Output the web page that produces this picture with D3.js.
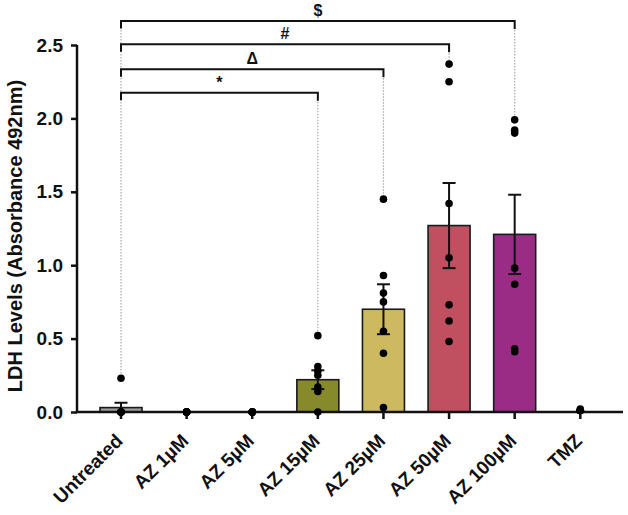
<!DOCTYPE html>
<html>
<head>
<meta charset="utf-8">
<script src="https://cdn.jsdelivr.net/npm/d3@7"></script>
<style>
  html, body { margin: 0; padding: 0; background: #fff; }
  svg { display: block; }
  text { font-family: "Liberation Sans", Arial, sans-serif; font-weight: bold; fill: #111; }
</style>
</head>
<body>
<script>
// ---- data ----
const categories = ["Untreated", "AZ 1µM", "AZ 5µM", "AZ 15µM", "AZ 25µM", "AZ 50µM", "AZ 100µM", "TMZ"];
const means = [0.03, 0, 0, 0.22, 0.70, 1.27, 1.21, 0];
const sems  = [0.033, 0, 0, 0.064, 0.17, 0.29, 0.27, 0];
const points = [
  [0.23, 0, 0, 0, 0, 0, 0],
  [0, 0, 0, 0, 0, 0],
  [0, 0, 0, 0, 0, 0],
  [0.52, 0.31, 0.28, 0.25, 0.17, 0.14, 0],
  [1.45, 0.93, 0.81, 0.75, 0.55, 0.40, 0.03],
  [2.37, 2.25, 1.42, 1.05, 0.73, 0.62, 0.48],
  [1.99, 1.92, 1.90, 0.98, 0.87, 0.43, 0.41],
  [0.01, 0.01, 0.01, 0.02, 0.01, 0.01]
];
const barColors = ["#9c9c9c", "#9c9c9c", "#9c9c9c", "#878a2b", "#ccb960", "#c04f5f", "#9a2c86", "#9c9c9c"];
const yTicks = [0, 0.5, 1.0, 1.5, 2.0, 2.5];
const brackets = [
  { label: "*", from: "Untreated", to: "AZ 15µM", level: 2.175 },
  { label: "Δ", from: "Untreated", to: "AZ 25µM", level: 2.335 },
  { label: "#", from: "Untreated", to: "AZ 50µM", level: 2.505 },
  { label: "$", from: "Untreated", to: "AZ 100µM", level: 2.663 }
];
const yTitle = "LDH Levels (Absorbance 492nm)";

// ---- layout ----
const W = 628, H = 515;
const svg = d3.select("body").append("svg").attr("width", W).attr("height", H);

const x = d3.scaleBand().domain(categories).range([88.2, 613.1]).paddingInner(0.36).paddingOuter(0.18);
const y = d3.scaleLinear().domain([0, 2.5]).range([412, 45]);
const cx = c => x(c) + x.bandwidth() / 2;
const axisX = 77;

// dotted guide lines from bracket ends down to highest point
const guideTop = {};
brackets.forEach(b => {
  guideTop[b.from] = Math.max(guideTop[b.from] || 0, b.level);
  guideTop[b.to] = Math.max(guideTop[b.to] || 0, b.level);
});
svg.append("g").selectAll("line").data(Object.keys(guideTop)).join("line")
  .attr("x1", d => cx(d)).attr("x2", d => cx(d))
  .attr("y1", d => y(guideTop[d]))
  .attr("y2", d => y(d3.max(points[categories.indexOf(d)])))
  .attr("stroke", "#aaa").attr("stroke-width", 1.2).attr("stroke-dasharray", "1.5,1.5");

// bars
svg.append("g").selectAll("rect").data(categories).join("rect")
  .attr("x", d => x(d))
  .attr("width", x.bandwidth())
  .attr("y", (d, i) => y(means[i]))
  .attr("height", (d, i) => y(0) - y(means[i]))
  .attr("fill", (d, i) => barColors[i])
  .attr("stroke", (d, i) => means[i] > 0 ? "#1a1a1a" : "none")
  .attr("stroke-width", 1.6);

// error bars
const eb = svg.append("g").attr("stroke", "#111").attr("stroke-width", 2);
categories.forEach((c, i) => {
  if (sems[i] <= 0) return;
  const xc = cx(c);
  const top = means[i] + sems[i], bot = Math.max(0, means[i] - sems[i]);
  eb.append("line").attr("x1", xc).attr("x2", xc).attr("y1", y(top)).attr("y2", y(bot));
  eb.append("line").attr("x1", xc - 6.5).attr("x2", xc + 6.5).attr("y1", y(top)).attr("y2", y(top));
  if (means[i] - sems[i] > 0.02)
    eb.append("line").attr("x1", xc - 6.5).attr("x2", xc + 6.5).attr("y1", y(bot)).attr("y2", y(bot));
});

// axes
const yAxis = svg.append("g").attr("transform", `translate(${axisX},0)`)
  .call(d3.axisLeft(y).tickValues(yTicks).tickFormat(d3.format(".1f")).tickSize(6).tickPadding(8));
yAxis.select(".domain").attr("stroke", "#111").attr("stroke-width", 2.5).attr("d", `M0,${y(2.5)}V${y(0)}`);
yAxis.selectAll(".tick line").attr("stroke", "#111").attr("stroke-width", 2.5);
yAxis.selectAll(".tick text").attr("font-size", 19).attr("font-weight", "bold")
  .attr("font-family", "Liberation Sans, Arial, sans-serif").attr("fill", "#111");

const xAxis = svg.append("g").attr("transform", `translate(0,${y(0)})`)
  .call(d3.axisBottom(x).tickSize(7).tickPadding(4));
xAxis.select(".domain").attr("stroke", "#111").attr("stroke-width", 2.5).attr("d", `M${axisX - 1},0H623`);
xAxis.selectAll(".tick line").attr("stroke", "#111").attr("stroke-width", 2.5);
xAxis.selectAll(".tick text")
  .attr("font-size", 19).attr("font-weight", "bold")
  .attr("font-family", "Liberation Sans, Arial, sans-serif").attr("fill", "#111")
  .attr("text-anchor", "end")
  .attr("dy", null).attr("y", 0)
  .attr("transform", "translate(3,30) rotate(-45)");

// points
const pg = svg.append("g").attr("fill", "#000");
categories.forEach((c, i) => {
  pg.selectAll(null).data(points[i]).join("circle")
    .attr("cx", cx(c)).attr("cy", d => y(d)).attr("r", 3.8);
});

// brackets
const bg = svg.append("g");
brackets.forEach(b => {
  const x1 = cx(b.from), x2 = cx(b.to), yy = y(b.level);
  bg.append("path")
    .attr("d", `M${x1},${yy + 7.5}V${yy}H${x2}V${yy + 8}`)
    .attr("fill", "none").attr("stroke", "#111").attr("stroke-width", 2);
  bg.append("text").attr("x", (x1 + x2) / 2).attr("y", yy - 5)
    .attr("text-anchor", "middle").attr("font-size", 16).attr("font-weight", "normal")
    .text(b.label);
});

// y title
svg.append("text")
  .attr("transform", `translate(22,236) rotate(-90)`)
  .attr("text-anchor", "middle").attr("font-size", 20)
  .text(yTitle);
</script>
</body>
</html>
